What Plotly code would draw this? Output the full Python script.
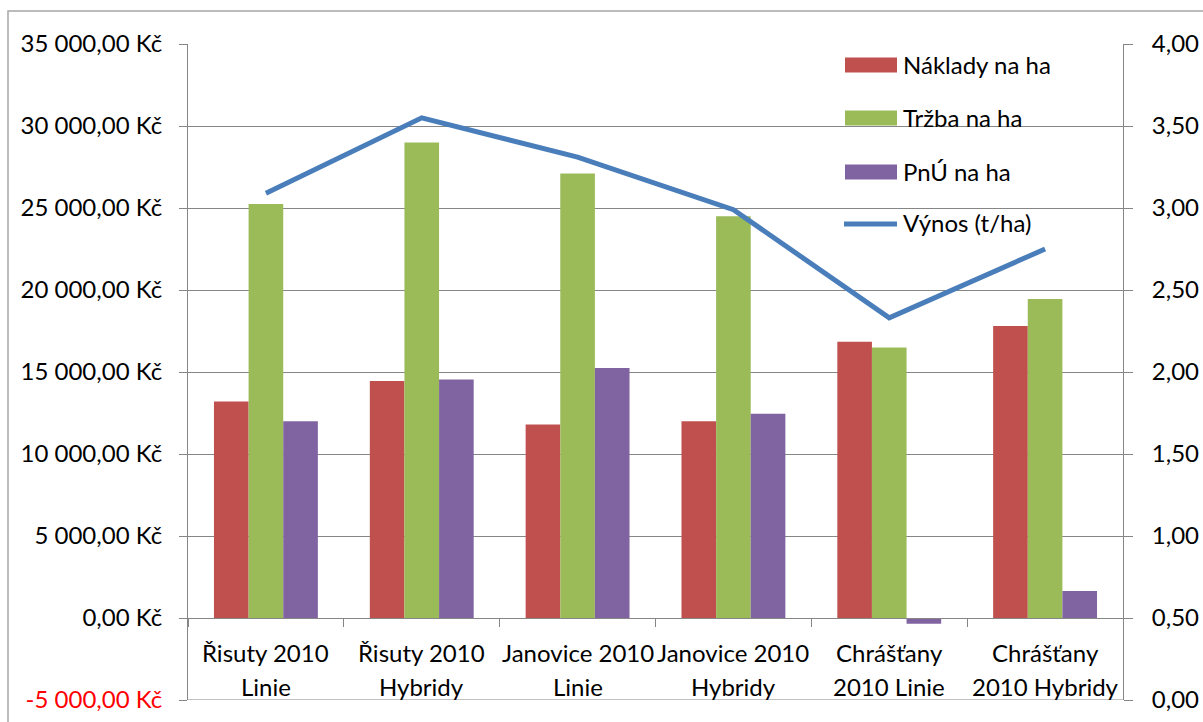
import plotly.graph_objects as go

# ---- data ----
categories = ["Řisuty 2010 Linie", "Řisuty 2010 Hybridy", "Janovice 2010 Linie",
              "Janovice 2010 Hybridy", "Chrášťany 2010 Linie", "Chrášťany 2010 Hybridy"]
cat_line1 = ["Řisuty 2010", "Řisuty 2010", "Janovice 2010", "Janovice 2010", "Chrášťany", "Chrášťany"]
cat_line2 = ["Linie", "Hybridy", "Linie", "Hybridy", "2010 Linie", "2010 Hybridy"]

naklady = [13200, 14450, 11800, 12000, 16850, 17800]
trzba = [25250, 29000, 27100, 24500, 16500, 19450]
pnu = [12000, 14550, 15250, 12450, -350, 1650]
vynos = [3.09, 3.55, 3.31, 2.99, 2.33, 2.75]

series_names = ["Náklady na ha", "Tržba na ha", "PnÚ na ha", "Výnos (t/ha)"]

left_ticks = [-5000, 0, 5000, 10000, 15000, 20000, 25000, 30000, 35000]
left_ticktext = ['<span style="color:#FF0000">-5 000,00 Kč</span>', "0,00 Kč", "5 000,00 Kč",
                 "10 000,00 Kč", "15 000,00 Kč", "20 000,00 Kč", "25 000,00 Kč",
                 "30 000,00 Kč", "35 000,00 Kč"]
right_ticks = [0, 0.5, 1, 1.5, 2, 2.5, 3, 3.5, 4]
right_ticktext = ["0,00", "0,50", "1,00", "1,50", "2,00", "2,50", "3,00", "3,50", "4,00"]

# ---- styles ----
RED, GREEN, PURPLE, BLUE = "#C0504D", "#9BBB59", "#8064A2", "#4A7EBB"
GRID = "#868686"
FONT = "Lato"
FS = 24

W, H = 1203, 722
L, R, T, B = 188, 80, 44, 22
PW, PH = W - L - R, H - T - B


def px(x):
    return (x - L) / PW


def py(y):
    return (H - B - y) / PH


fig = go.Figure()
for name, vals, col in zip(series_names[:3], [naklady, trzba, pnu], [RED, GREEN, PURPLE]):
    fig.add_bar(x=categories, y=vals, name=name, marker=dict(color=col, line=dict(width=0)),
                showlegend=False)
fig.add_scatter(x=categories, y=vynos, yaxis="y2", mode="lines", name=series_names[3],
                line=dict(color=BLUE, width=5), showlegend=False)

shapes = []
annotations = []

# outer chart frame (partially cropped in the reference)
shapes.append(dict(type="rect", xref="paper", yref="paper", x0=px(8), x1=px(1215), y0=py(730), y1=py(11),
                   line=dict(color="#A6A6A6", width=1.5), fillcolor="rgba(0,0,0,0)", layer="below"))
# bottom gridline at -5000 (edge of plot area)
shapes.append(dict(type="line", xref="paper", yref="y", x0=0, x1=1, y0=-5000, y1=-5000,
                   line=dict(color=GRID, width=1)))

# manual legend
leg_y = [65, 118, 172, 224]
for i, (name, col) in enumerate(zip(series_names, [RED, GREEN, PURPLE, BLUE])):
    yc = leg_y[i]
    if i < 3:
        shapes.append(dict(type="rect", xref="paper", yref="paper", x0=px(845), x1=px(897),
                           y0=py(yc + 7.5), y1=py(yc - 7.5), line=dict(width=0), fillcolor=col))
    else:
        shapes.append(dict(type="line", xref="paper", yref="paper", x0=px(844), x1=px(897),
                           y0=py(yc), y1=py(yc), line=dict(color=col, width=5)))
    annotations.append(dict(xref="paper", yref="paper", x=px(901), y=py(yc - 1), text=name,
                            showarrow=False, xanchor="left", yanchor="middle",
                            font=dict(family=FONT, size=FS, color="black")))

# category labels (two lines each)
for c, l1, l2 in zip(categories, cat_line1, cat_line2):
    annotations.append(dict(xref="x", yref="paper", x=c, y=py(652), text=l1, showarrow=False,
                            xanchor="center", yanchor="middle",
                            font=dict(family=FONT, size=FS, color="black")))
    annotations.append(dict(xref="x", yref="paper", x=c, y=py(686), text=l2, showarrow=False,
                            xanchor="center", yanchor="middle",
                            font=dict(family=FONT, size=FS, color="black")))

fig.update_layout(
    width=W, height=H,
    margin=dict(l=L, r=R, t=T, b=B, pad=0),
    paper_bgcolor="white", plot_bgcolor="white",
    barmode="group", bargap=1 / 3, bargroupgap=0,
    font=dict(family=FONT, size=FS, color="black"),
    showlegend=False,
    xaxis=dict(type="category", range=[-0.5, 5.5], anchor="free", position=0.125,
               showline=True, linecolor=GRID, linewidth=1,
               ticks="outside", tickson="boundaries", ticklen=8, tickcolor=GRID, tickwidth=1,
               showticklabels=False, showgrid=False, zeroline=False, fixedrange=True),
    yaxis=dict(range=[-5000, 35000], tickvals=left_ticks, ticktext=left_ticktext,
               showgrid=True, gridcolor=GRID, gridwidth=1, zeroline=False,
               showline=True, linecolor=GRID, linewidth=1,
               ticks="outside", ticklen=8, tickcolor=GRID, tickwidth=1, automargin=False,
               ticklabelstandoff=12, tickfont=dict(family=FONT, size=FS, color="black")),
    yaxis2=dict(range=[0, 4], tickvals=right_ticks, ticktext=right_ticktext,
                overlaying="y", side="right", showgrid=False, zeroline=False,
                showline=True, linecolor=GRID, linewidth=1, automargin=False,
                ticks="outside", ticklen=9, tickcolor=GRID, tickwidth=1,
                ticklabelstandoff=14, tickfont=dict(family=FONT, size=FS, color="black")),
    shapes=shapes,
    annotations=annotations,
)

fig.write_html("out.html", config={"displayModeBar": False},
               post_script="document.body.style.margin='0';document.body.style.overflow='hidden';")
